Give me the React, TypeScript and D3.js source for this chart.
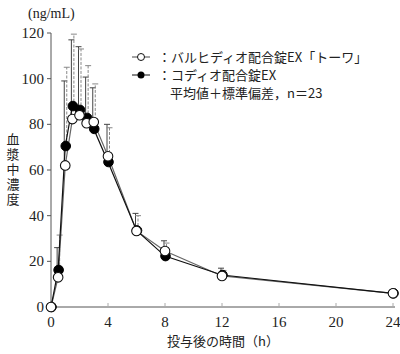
import React from "react";
import * as d3 from "d3";

// sampling times (h)
const times = [0, 0.5, 1, 1.5, 2, 2.5, 3, 4, 6, 8, 12, 24];

// バルヒディオ配合錠EX「トーワ」 mean and mean+SD
const valhidioMean = [0, 13, 62, 82.3, 84, 80.5, 81, 66, 33.3, 24.5, 13.6, 6];
const valhidioUpper = [0, 26, 99, 117, 114, 100.7, 96, 80, 41, 29, 17, 7];

// コディオ配合錠EX mean and mean+SD
const codioMean = [0, 16.2, 70.5, 88, 86.3, 82.8, 78, 63.5, 33.5, 22.3, 14, 6];
const codioUpper = [0, 31.5, 105, 119.5, 113, 105.7, 97.7, 78.5, 40, 28, 16, 7];

const xTicks = [0, 4, 8, 12, 16, 20, 24];
const yTicks = [0, 20, 40, 60, 80, 100, 120];

const yLabel = "血漿中濃度";

const width = 400;
const height = 354;

const jp = "'Noto Sans CJK JP', sans-serif";
const num = "'Liberation Serif', 'DejaVu Serif', serif";

const App = () => {
  let xScale = d3.scaleLinear().domain([0, 24]).range([51, 393]);
  let yScale = d3.scaleLinear().domain([0, 120]).range([307, 33]);

  let line = d3
    .line<number>()
    .x((d, i) => xScale(times[i]))
    .y((d) => yScale(d));

  let errorBars = (means: number[], uppers: number[], dx: number, dashed: boolean, color: string) => {
    return means.map((m, i) => {
      if (uppers[i] - m < 1) return null;
      let x = xScale(times[i]) + dx;
      let y1 = yScale(m);
      let y2 = yScale(uppers[i]);
      return (
        <g key={i}>
          <line x1={x} x2={x} y1={y1} y2={y2} stroke={color} strokeWidth={1}
            strokeDasharray={dashed ? "3,1.5" : undefined} />
          <line x1={x - 3} x2={x + 3} y1={y2} y2={y2} stroke={color} strokeWidth={1} />
        </g>
      );
    });
  };

  return (
    <svg width={width} height={height} style={{ position: "absolute", left: 0, top: 0, background: "#fff" }}>
      {/* axes */}
      <line x1={xScale(0)} x2={xScale(24) + 2} y1={yScale(0)} y2={yScale(0)} stroke="#555" strokeWidth={1} />
      <line x1={xScale(0)} x2={xScale(0)} y1={yScale(0)} y2={yScale(120)} stroke="#555" strokeWidth={1} />
      {xTicks.map((t) => (
        <g key={"x" + t}>
          {t > 0 && (
            <line x1={xScale(t)} x2={xScale(t)} y1={yScale(0)} y2={yScale(0) - 4} stroke="#aaa" strokeWidth={1} />
          )}
          <text x={xScale(t)} y={yScale(0) + 20} textAnchor="middle" fontFamily={num} fontSize={15} fill="#222">
            {t}
          </text>
        </g>
      ))}
      {yTicks.map((t) => (
        <g key={"y" + t}>
          <line x1={xScale(0) - 4} x2={xScale(0)} y1={yScale(t)} y2={yScale(t)} stroke="#555" strokeWidth={1} />
          <text x={xScale(0) - 7} y={yScale(t) + 5} textAnchor="end" fontFamily={num} fontSize={15} fill="#222">
            {t}
          </text>
        </g>
      ))}
      <text x={28} y={18} fontFamily={num} fontSize={14} fill="#222">(ng/mL)</text>
      <text x={13} y={133} fontFamily={jp} fontSize={13} fill="#222"
        style={{ writingMode: "vertical-rl" }} letterSpacing={2}>
        {yLabel}
      </text>
      <text x={223} y={346} textAnchor="middle" fontFamily={jp} fontSize={13} fill="#222">
        投与後の時間（h）
      </text>

      {/* error bars */}
      {errorBars(valhidioMean, valhidioUpper, -1, false, "#444")}
      {errorBars(codioMean, codioUpper, 1.5, true, "#888")}

      {/* lines */}
      <path d={line(valhidioMean) || ""} fill="none" stroke="#666" strokeWidth={1.2} />
      <path d={line(codioMean) || ""} fill="none" stroke="#111" strokeWidth={1.2} />

      {/* markers */}
      {codioMean.map((v, i) => (
        <circle key={"c" + i} cx={xScale(times[i]) + 0.5} cy={yScale(v)} r={4.8} fill="#000" stroke="#000" />
      ))}
      {valhidioMean.map((v, i) => (
        <circle key={"v" + i} cx={xScale(times[i])} cy={yScale(v)} r={4.8} fill="#fff" stroke="#111" strokeWidth={1.1} />
      ))}

      {/* legend */}
      <line x1={132} x2={150} y1={57} y2={57} stroke="#444" />
      <circle cx={141} cy={57} r={3.5} fill="#fff" stroke="#111" />
      <text x={158} y={62} fontFamily={jp} fontSize={13} fill="#222">：バルヒディオ配合錠EX「トーワ」</text>
      <line x1={132} x2={150} y1={75} y2={75} stroke="#111" />
      <circle cx={141} cy={75} r={3.5} fill="#000" />
      <text x={158} y={80} fontFamily={jp} fontSize={13} fill="#222">：コディオ配合錠EX</text>
      <text x={170} y={98} fontFamily={jp} fontSize={13} fill="#222">平均値＋標準偏差，n＝23</text>
    </svg>
  );
};

export default App;
